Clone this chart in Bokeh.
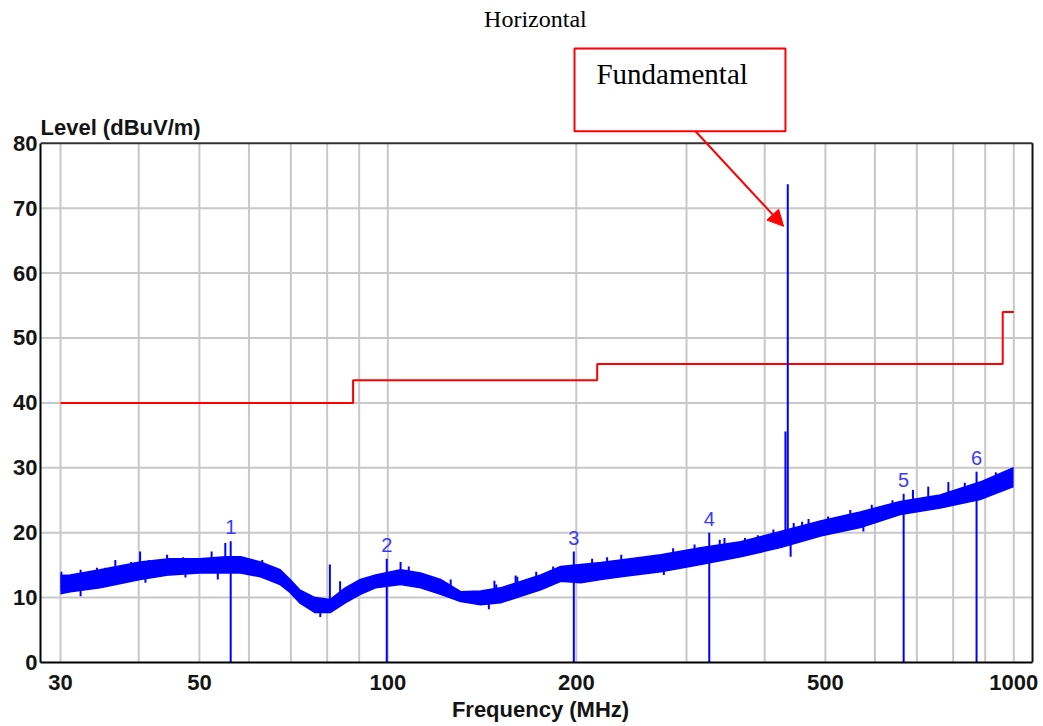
from bokeh.plotting import figure
from bokeh.models import FixedTicker, Label, Arrow, NormalHead, BoxAnnotation, Range1d
from bokeh.core.properties import value
from bokeh.embed import file_html
from bokeh.resources import INLINE

# ---------------- data ----------------
title_text = "Horizontal"
y_title = "Level (dBuV/m)"
x_title = "Frequency (MHz)"
annot_text = "Fundamental"

x_tick_values = [30, 50, 100, 200, 500, 1000]
x_grid_values = [30, 40, 50, 60, 70, 80, 90, 100, 200, 300, 400, 500, 600, 700, 800, 900, 1000]
y_tick_values = [0, 10, 20, 30, 40, 50, 60, 70, 80]
y_grid_values = [10, 20, 30, 40, 50, 60, 70]
x_min, x_max = 27.87, 1071.2      # plotted frequency span (frame edges)
y_min, y_max = 0, 80              # plotted level span

# measured trace: envelope (upper / lower) of the noisy sweep
trace_freq = [30.0, 31.1, 34.7, 40.2, 44.8, 50.0, 55.1, 58.2, 62.6, 67.3, 69.8, 72.3,
              76.5, 80.9, 85.5, 90.4, 95.6, 104.8, 112.8, 121.4, 130.7, 140.7, 151.4,
              163.0, 175.5, 188.9, 203.3, 218.9, 235.6, 272.9, 316.0, 366.0, 423.9,
              491.0, 568.6, 658.5, 762.7, 883.2, 999.0]
trace_upper = [13.4, 13.5, 14.3, 15.5, 16.0, 16.0, 16.3, 16.3, 15.5, 14.3, 12.8, 11.2,
               10.0, 9.7, 11.5, 12.8, 13.5, 14.3, 13.8, 12.8, 10.9, 11.0, 11.5,
               12.5, 13.5, 14.8, 15.1, 15.4, 15.8, 16.6, 17.7, 18.6, 20.2,
               21.8, 23.2, 24.8, 25.8, 27.8, 30.0]
trace_lower = [10.6, 10.9, 11.5, 12.8, 13.5, 13.8, 13.8, 13.8, 13.2, 12.0, 10.8, 9.2,
               7.7, 7.7, 9.2, 10.5, 11.5, 12.0, 11.5, 10.5, 9.4, 8.9, 9.2,
               10.2, 11.2, 12.5, 12.3, 12.8, 13.2, 14.0, 15.1, 16.3, 17.7,
               19.5, 20.8, 22.8, 23.8, 25.1, 27.1]

# isolated noise spikes (upward) and dips (downward) on the sweep
spike_freq = [30.1, 32.3, 34.3, 35.4, 36.7, 38.9, 40.2, 41.5, 44.4, 47.1, 52.3, 55.0, 63.0,
              80.8, 83.9, 104.8, 108.0, 126.0, 148.0, 149.0, 160.0, 161.0, 172.6, 183.7,
              212.0, 224.0, 236.0, 285.6, 309.0, 339.0, 345.0, 372.0, 390.0, 413.0, 445.0,
              459.0, 470.0, 505.0, 548.0, 593.0, 640.0, 690.0, 730.0, 786.0, 835.0, 936.0]
spike_base = [11.0, 12.0, 12.5, 12.5, 12.0, 13.0, 13.0, 13.5, 14.0, 14.0, 14.0, 14.0, 13.5,
              8.5, 9.0, 12.5, 12.5, 10.5, 10.0, 9.8, 10.5, 10.8, 11.8, 12.5,
              13.5, 14.0, 13.5, 15.5, 16.0, 16.5, 16.0, 17.0, 17.5, 18.5, 19.0,
              19.5, 19.0, 20.5, 21.5, 22.0, 23.0, 23.5, 24.0, 24.5, 25.5, 27.5]
spike_top = [14.0, 14.3, 14.6, 14.6, 15.8, 15.5, 17.1, 15.8, 16.6, 16.2, 17.1, 18.4, 15.8,
             15.1, 12.5, 15.5, 14.8, 12.8, 12.6, 12.0, 13.4, 13.2, 14.0, 14.8,
             16.0, 16.2, 16.6, 17.6, 18.2, 18.9, 19.2, 19.2, 19.6, 20.5, 21.5,
             21.7, 22.1, 22.5, 23.5, 24.3, 25.0, 26.6, 27.1, 27.8, 27.7, 29.3]
dip_freq = [32.3, 41.0, 47.5, 53.5, 78.0, 145.0, 276.0, 440.0, 575.0]
dip_top = [11.5, 13.5, 14.0, 14.5, 8.5, 9.5, 15.0, 18.5, 21.5]
dip_bottom = [10.2, 12.3, 13.1, 12.8, 7.0, 8.2, 13.5, 16.3, 20.2]

# fundamental emission
fund_freq = [431.7, 435.4]
fund_base = [19.0, 19.0]
fund_top = [35.6, 73.7]

# marked peaks
marker_freq = [56.1, 99.6, 198.2, 326.2, 666.8, 871.9]
marker_level = [18.7, 16.0, 17.1, 20.0, 26.0, 29.4]
marker_names = ["1", "2", "3", "4", "5", "6"]

# limit line
limit_edges = [30, 88, 216, 960, 1000]
limit_levels = [40, 43.5, 46, 54]

# ---------------- figure ----------------
# the frame reaches up to the top of the canvas so that the title and the
# annotation box above the grid can be drawn; the visible plot box is drawn
# with the axes (bounded) plus a top and right border.
p = figure(width=1040, height=724, x_axis_type="log",
           x_range=Range1d(x_min, 1103.1), y_range=Range1d(y_min, 102.0),
           output_backend="svg", toolbar_location=None,
           min_border_left=40, min_border_right=0, min_border_top=0, min_border_bottom=61)
p.background_fill_color = "white"
p.border_fill_color = "white"
p.outline_line_color = None
p.xgrid.visible = False
p.ygrid.visible = False

tick_font = "Liberation Sans"
for ax in (p.xaxis[0], p.yaxis[0]):
    ax.major_tick_line_color = None
    ax.minor_tick_line_color = None
    ax.major_tick_out = 0
    ax.major_tick_in = 0
    ax.minor_tick_out = 0
    ax.axis_line_color = "black"
    ax.axis_line_width = 2
    ax.major_label_text_font = tick_font
    ax.major_label_text_font_style = "bold"
    ax.major_label_text_font_size = "22px"
    ax.major_label_text_color = "#141414"

p.xaxis.ticker = FixedTicker(ticks=x_tick_values)
p.xaxis.major_label_overrides = {v: str(v) for v in x_tick_values}
p.xaxis.major_label_standoff = 12
p.xaxis.bounds = (x_min, x_max)
p.xaxis.axis_label = x_title
p.xaxis.axis_label_standoff = 4
p.xaxis.axis_label_text_font = tick_font
p.xaxis.axis_label_text_font_style = "bold"
p.xaxis.axis_label_text_font_size = "22px"
p.xaxis.axis_label_text_color = "#141414"

p.yaxis.ticker = FixedTicker(ticks=y_tick_values)
p.yaxis.major_label_standoff = 3
p.yaxis.bounds = (y_min, y_max)

# grid lines (limited to the plot box)
grid_col = "#c8c8c8"
p.segment(x0=x_grid_values, y0=[y_min] * len(x_grid_values), x1=x_grid_values, y1=[y_max] * len(x_grid_values),
          line_color=grid_col, line_width=2)
p.segment(x0=[x_min] * len(y_grid_values), y0=y_grid_values, x1=[x_max] * len(y_grid_values), y1=y_grid_values,
          line_color=grid_col, line_width=2)
# top and right edges of the plot box
p.segment(x0=[x_min], y0=[y_max], x1=[x_max], y1=[y_max], line_color="#333333", line_width=2)
p.segment(x0=[x_max], y0=[y_min], x1=[x_max], y1=[y_max], line_color="#111111", line_width=2)

# limit line built from edges / levels
lim_x, lim_y = [], []
for i, lvl in enumerate(limit_levels):
    lim_x += [limit_edges[i], limit_edges[i + 1]]
    lim_y += [lvl, lvl]
p.line(lim_x, lim_y, line_color="#ff0000", line_width=2)

# sweep
blue = "#0000ff"
p.varea(x=trace_freq, y1=trace_lower, y2=trace_upper, fill_color=blue)
p.line(trace_freq, trace_upper, line_color=blue, line_width=1.5)
p.line(trace_freq, trace_lower, line_color=blue, line_width=1.5)
p.segment(x0=spike_freq, y0=spike_base, x1=spike_freq, y1=spike_top, line_color=blue, line_width=2)
p.segment(x0=dip_freq, y0=dip_bottom, x1=dip_freq, y1=dip_top, line_color=blue, line_width=2)
p.segment(x0=fund_freq, y0=fund_base, x1=fund_freq, y1=fund_top, line_color=blue, line_width=2)

# markers
p.segment(x0=marker_freq, y0=[0] * len(marker_freq), x1=marker_freq, y1=marker_level,
          line_color=blue, line_width=2)
p.text(x=marker_freq, y=marker_level, text=marker_names, y_offset=-14,
       text_align="center", text_baseline="middle",
       text_font=value("Liberation Sans"), text_font_size="20px", text_color="#3a3aff")

# texts above the plot box
p.add_layout(Label(x=172.1, y=99.2, text=title_text, text_align="center", text_baseline="middle",
                   text_font="Liberation Serif", text_font_size="24px", text_color="black"))
p.add_layout(Label(x=x_min, y=82.5, text=y_title, text_align="left", text_baseline="middle",
                   text_font=tick_font, text_font_style="bold", text_font_size="22px", text_color="#141414"))

# annotation box and arrow
p.add_layout(BoxAnnotation(left=198.7, right=431.7, top=94.6, bottom=81.85,
                           fill_alpha=0, line_color="#ff0000", line_alpha=1.0, line_width=2))
p.add_layout(Label(x=215.4, y=90.7, text=annot_text, text_align="left", text_baseline="middle",
                   text_font="Liberation Serif", text_font_size="29px", text_color="black"))
p.add_layout(Arrow(x_start=310.1, y_start=81.85, x_end=428.8, y_end=67.2,
                   line_color="#ff0000", line_width=2,
                   end=NormalHead(size=16, fill_color="#ff0000", line_color="#ff0000")))

open("out.html", "w").write(file_html(p, INLINE))
